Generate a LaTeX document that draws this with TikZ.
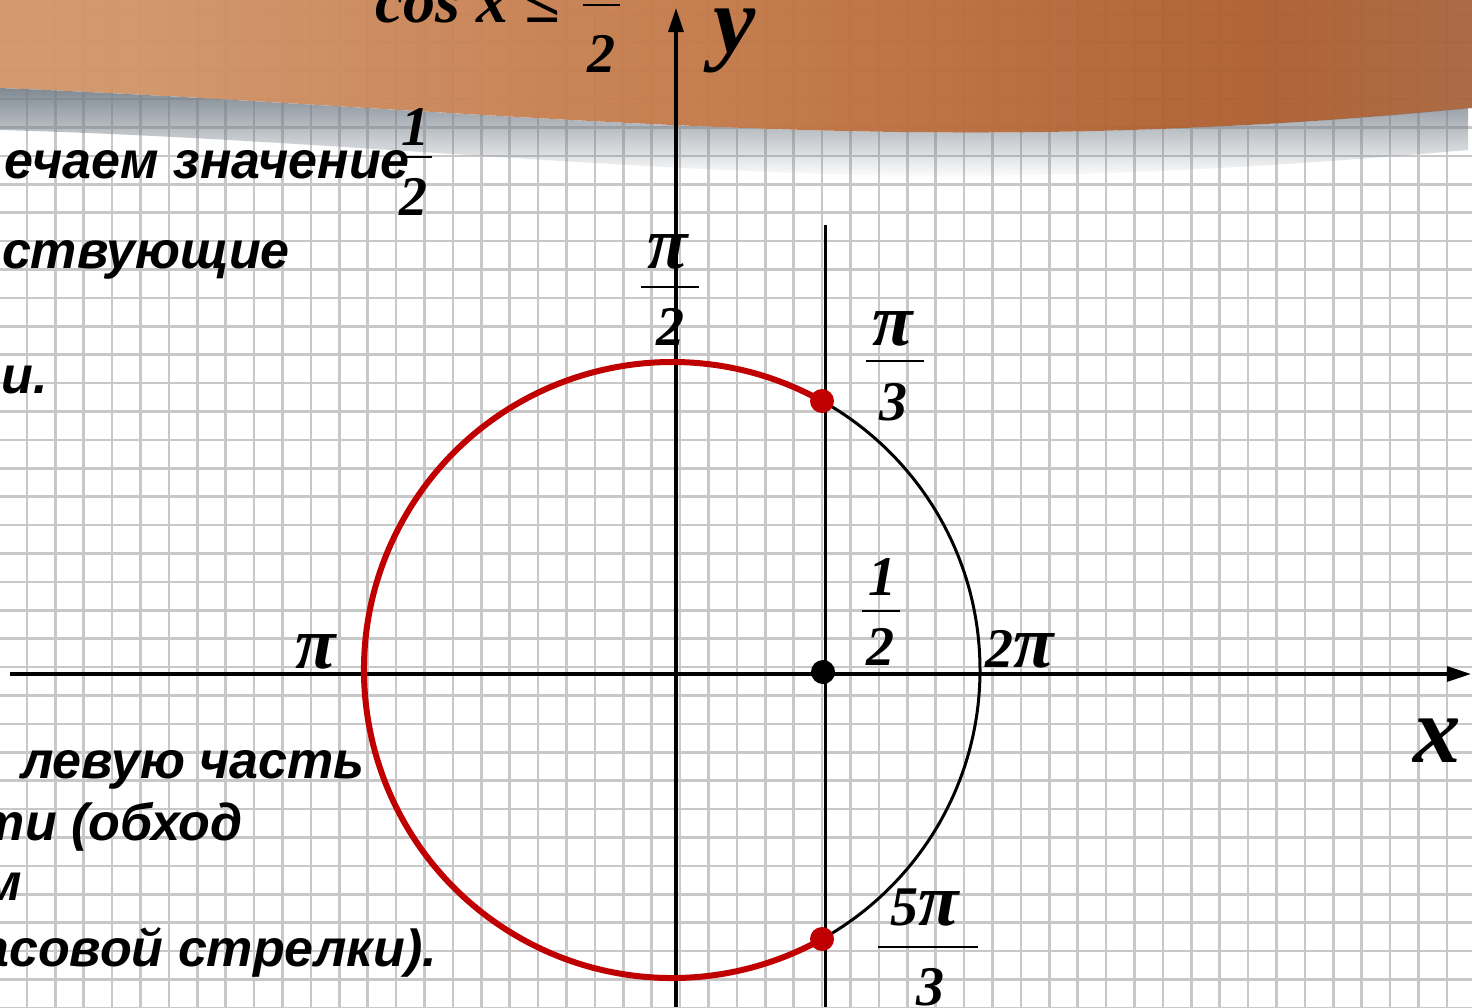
\documentclass[tikz,border=0pt]{standalone}
\usepackage{fontspec}
\setmainfont{Liberation Serif}
\newfontfamily\sansfam{Liberation Sans}
\usetikzlibrary{arrows.meta,fadings}
\pgfdeclarehorizontalshading{bandshade}{100bp}{rgb(0bp)=(0.84,0.63,0.46); rgb(30bp)=(0.82,0.58,0.41); rgb(50bp)=(0.76,0.47,0.28); rgb(68bp)=(0.68,0.37,0.19); rgb(85bp)=(0.63,0.44,0.33); rgb(100bp)=(0.67,0.61,0.58)}
\definecolor{arcred}{RGB}{192,0,0}
\definecolor{shadowc}{RGB}{115,125,135}
\definecolor{gridc}{RGB}{200,200,200}
\newcommand{\PI}{{\fontsize{74}{74}\selectfont π}}
\tikzset{
  gridline/.style={draw=gridc, line width=2.6pt},
  axisline/.style={line width=3.2pt, -{Triangle[length=24pt,width=15pt]}},
  circ/.style={line width=3pt},
  redarc/.style={draw=arcred, line width=6pt},
  reddot/.style={circle, fill=arcred, inner sep=0pt, minimum size=24pt},
  blackdot/.style={circle, fill=black, inner sep=0pt, minimum size=24pt},
  lbl/.style={inner sep=0pt, anchor=base, font=\fontsize{56}{56}\selectfont\bfseries\itshape},
  big/.style={inner sep=0pt, anchor=base, font=\fontsize{95}{95}\selectfont\bfseries\itshape},
  ru/.style={inner sep=0pt, anchor=base east, font=\sansfam\fontsize{52}{60}\selectfont\bfseries\itshape},
  fbar/.style={line width=2pt},
}
\begin{document}
\begin{tikzpicture}[x=1pt,y=-1pt]
\useasboundingbox (0,0) rectangle (1472,1007);
\fill[white] (0,0) rectangle (1472,1007);
% grid
\foreach \i in {-29,...,23} \draw[gridline] ({822+28.4*\i},0) -- ++(0,1007);
\foreach \k in {-23,...,12} \draw[gridline] (0,{667+28.4*\k}) -- ++(1472,0);
% top band
\shade[shading=bandshade, opacity=0.96] (0,0) -- (1472,0) -- (1472,108) .. controls (1300,125) and (1100,135) .. (900,132) .. controls (600,128) and (300,100) .. (0,88) -- cycle;
\fill[shadowc, path fading=south, opacity=0.9] (0,88) .. controls (300,100) and (600,128) .. (900,132) .. controls (1100,135) and (1300,125) .. (1472,108) -- (1472,150) .. controls (1300,165) and (1100,178) .. (900,176) .. controls (600,170) and (300,138) .. (0,130) -- cycle;
% axes
\coordinate (xs) at (10,674);
\coordinate (xe) at (1471,674);
\coordinate (ys) at (676,1007);
\coordinate (ye) at (676,8);
\draw[axisline] (xs) -- (xe);
\draw[axisline] (ys) -- (ye);
% vertical line x = 1/2
\coordinate (vt) at (825,225);
\coordinate (vb) at (825,1007);
\draw[line width=3pt] (vt) -- (vb);
% circle
\coordinate (O) at (672,670);
\draw[circ] (O) circle[radius=308];
\coordinate (P1) at (826,403.3);
\draw[redarc] (P1) arc[start angle=-60, end angle=-300, radius=308];
\node[reddot] (d1) at (822,401) {};
\node[reddot] (d2) at (822,939) {};
\node[blackdot] (d0) at (823,672) {};
% labels
\node[big] (ylab) at (735,52) {y};
\node[big] (xlab) at (1437,762) {x};
\node[lbl] (pi2n) at (668,268) {\PI};
\draw[fbar] (641,287) -- (699,287);
\node[lbl] (pi2d) at (670,345) {2};
\node[lbl] (pi3n) at (893,345) {\PI};
\draw[fbar] (866,361) -- (924,361);
\node[lbl] (pi3d) at (893,420) {3};
\node[lbl] (hn) at (882,595) {1};
\draw[fbar] (862,611) -- (900,611);
\node[lbl] (hd) at (880,665) {2};
\node[lbl] (pil) at (316,668) {\PI};
\node[lbl] (tpi) at (1020,667) {2\PI};
\node[lbl] (fpn) at (925,925) {5\PI};
\draw[fbar] (878,947) -- (978,947);
\node[lbl] (fpd) at (930,1005) {3};
% top inequality
\node[inner sep=0pt, anchor=base west, font=\fontsize{64}{64}\selectfont\bfseries\itshape] (cosx) at (375,22) {cos x ≤};
\draw[fbar] (583,5) -- (620,5);
\node[lbl] (cd) at (601,72) {2};
% russian text
\node[ru] (t1) at (410,178) {ечаем значение};
\node[lbl] (t1n) at (415,145) {1};
\draw[fbar] (405,157) -- (432,157);
\node[lbl] (t1d) at (413,215) {2};
\node[ru] (t2) at (290,268) {ствующие};
\node[ru] (t3) at (48,393) {и.};
\node[ru] (t4) at (365,778) {левую часть};
\node[ru] (t5) at (243,840) {ти (обход};
\node[ru] (t6) at (22,900) {м};
\node[ru] (t7) at (437,966) {асовой стрелки).};
\end{tikzpicture}
\end{document}
